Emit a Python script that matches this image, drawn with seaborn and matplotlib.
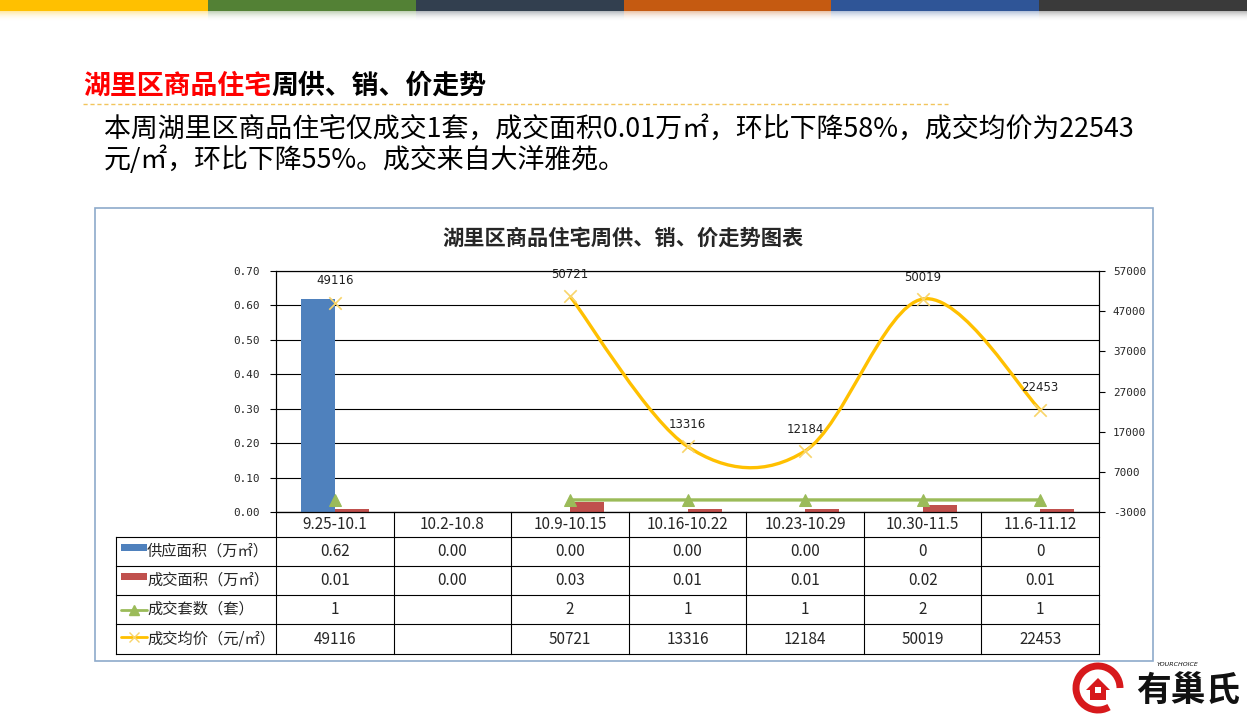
import numpy as np
import pandas as pd
import matplotlib
matplotlib.use("Agg")
import matplotlib.pyplot as plt
import seaborn as sns
from matplotlib.path import Path
from matplotlib.patches import PathPatch, Rectangle, Arc, Polygon
from matplotlib.lines import Line2D

# ---------------- data ----------------
weeks = ['9.25-10.1', '10.2-10.8', '10.9-10.15', '10.16-10.22',
         '10.23-10.29', '10.30-11.5', '11.6-11.12']
supply_text = ['0.62', '0.00', '0.00', '0.00', '0.00', '0', '0']
deal_area_text = ['0.01', '0.00', '0.03', '0.01', '0.01', '0.02', '0.01']
deal_units = [1, None, 2, 1, 1, 2, 1]
avg_price = [49116, None, 50721, 13316, 12184, 50019, 22453]
series_names = ['供应面积（万㎡）', '成交面积（万㎡）', '成交套数（套）', '成交均价（元/㎡）']
left_ticks = [0.00, 0.10, 0.20, 0.30, 0.40, 0.50, 0.60, 0.70]
right_ticks = [-3000, 7000, 17000, 27000, 37000, 47000, 57000]
stripe_colors = ['#FFC000', '#538135', '#323F4F', '#C55A11', '#2F5597', '#3A3A3A']

heading_red = '湖里区商品住宅'
heading_black = '周供、销、价走势'
para_line1 = '本周湖里区商品住宅仅成交1套，成交面积0.01万㎡，环比下降58%，成交均价为22543'
para_line2 = '元/㎡，环比下降55%。成交来自大洋雅苑。'
chart_title = '湖里区商品住宅周供、销、价走势图表'

BLUE, RED, GREEN, YELLOW, YMARK = '#4F81BD', '#C0504D', '#9BBB59', '#FFC000', '#F8D46A'

sns.set_style('white')
plt.rcParams['font.family'] = ['Noto Sans CJK SC', 'DejaVu Sans']

W, H = 1247, 718
fig = plt.figure(figsize=(W / 100, H / 100), dpi=100)


def fx(x):
    return x / W


def fy(y):
    return 1 - y / H


# ---------------- top stripes ----------------
sw = W / len(stripe_colors)
for i, c in enumerate(stripe_colors):
    fig.patches.append(Rectangle((fx(i * sw), fy(11)), sw / W, 11 / H,
                                 transform=fig.transFigure, color=c, lw=0))
    for k in range(10):
        fig.patches.append(Rectangle((fx(i * sw), fy(12 + k)), sw / W, 1 / H,
                                     transform=fig.transFigure, color=c,
                                     alpha=0.35 * (1 - k / 10) ** 2, lw=0))

# ---------------- heading & paragraph ----------------
t_red = fig.text(fx(83), fy(86), heading_red, color='#FF0000', fontsize=19.4,
                 fontweight='bold', va='center', ha='left')
fig.canvas.draw()
bb = t_red.get_window_extent()
fig.text(bb.x1 / W, fy(86), heading_black, color='black', fontsize=19.4,
         fontweight='bold', va='center', ha='left')
fig.add_artist(Line2D([fx(83), fx(948)], [fy(104), fy(104)], transform=fig.transFigure,
                      color='#F2C55C', lw=1, ls=(0, (3, 2))))
fig.text(fx(104), fy(129), para_line1, fontsize=19.4, va='center', ha='left', color='black')
fig.text(fx(104), fy(160), para_line2, fontsize=19.4, va='center', ha='left', color='black')

# ---------------- chart box ----------------
fig.patches.append(Rectangle((fx(95), fy(661)), (1153 - 95) / W, (661 - 208) / H,
                             transform=fig.transFigure, fill=False,
                             edgecolor='#8EAACB', lw=1.2))
fig.text(fx(623), fy(238), chart_title, fontsize=15.3, fontweight='bold',
         ha='center', va='center')

# ---------------- main axes ----------------
ax = fig.add_axes([fx(276), fy(512), (1099 - 276) / W, (512 - 271) / H])
bars_df = pd.DataFrame({
    'week': weeks * 2,
    'value': [float(s) for s in supply_text] + [float(s) for s in deal_area_text],
    'series': [series_names[0]] * len(weeks) + [series_names[1]] * len(weeks),
})
sns.barplot(data=bars_df, x='week', y='value', hue='series', order=weeks,
            hue_order=series_names[:2], palette=[BLUE, RED], width=0.58, gap=0,
            saturation=1, legend=False, errorbar=None, ax=ax, linewidth=0, zorder=3)
ax.set_xlim(-0.5, len(weeks) - 0.5)
ax.set_ylim(0, 0.70)
ax.set_yticks(left_ticks)
ax.set_yticklabels([f'{t:.2f}' for t in left_ticks], fontfamily='DejaVu Sans Mono',
                   fontsize=7.9)
ax.grid(axis='y', color='black', lw=0.8, zorder=0)
ax.grid(axis='x', visible=False)
ax.set_axisbelow(True)
ax.tick_params(axis='y', left=True, direction='out', length=4, width=0.8,
               color='black', pad=8)
ax.tick_params(axis='x', bottom=False, labelbottom=False)
ax.set_xlabel('')
ax.set_ylabel('')
for s in ax.spines.values():
    s.set_color('black')
    s.set_linewidth(0.8)

ax2 = ax.twinx()
# green: units
u_rows, seg = [], 0
for i, v in enumerate(deal_units):
    if v is None:
        seg += 1
        continue
    u_rows.append({'x': i, 'units': v, 'seg': seg})
units_df = pd.DataFrame(u_rows)
sns.lineplot(data=units_df, x='x', y='units', units='seg', estimator=None, sort=False,
             color=GREEN, lw=2.4, marker='^', markersize=9, markeredgecolor=GREEN,
             legend=False, ax=ax2, zorder=4)

# yellow: average price, Excel-style smoothed curve
p_rows, seg = [], 0
for i, v in enumerate(avg_price):
    if v is None:
        seg += 1
        continue
    p_rows.append({'x': i, 'price': v, 'seg': seg})
price_df = pd.DataFrame(p_rows)
for _, g in price_df.groupby('seg'):
    pts = g[['x', 'price']].to_numpy(dtype=float)
    if len(pts) < 2:
        continue
    verts, codes = [pts[0]], [Path.MOVETO]
    n = len(pts)
    for j in range(n - 1):
        p0 = pts[max(j - 1, 0)]
        p1, p2 = pts[j], pts[j + 1]
        p3 = pts[min(j + 2, n - 1)]
        c1 = p1 + (p2 - p0) / 6
        c2 = p2 - (p3 - p1) / 6
        verts += [c1, c2, p2]
        codes += [Path.CURVE4] * 3
    ax2.add_patch(PathPatch(Path(verts, codes), fill=False, edgecolor=YELLOW,
                            lw=2.4, zorder=5))
sns.scatterplot(data=price_df, x='x', y='price', marker='x', s=80, color=YMARK,
                linewidth=1.2, legend=False, ax=ax2, zorder=6)
for _, r in price_df.iterrows():
    ax2.annotate(f"{int(r['price'])}", (r['x'], r['price']), xytext=(0, 11),
                 textcoords='offset points', ha='center', va='bottom',
                 fontsize=8.5, fontfamily='DejaVu Sans', color='#202020', zorder=7)

ax2.set_xlim(-0.5, len(weeks) - 0.5)
ax2.set_ylim(right_ticks[0], right_ticks[-1])
ax2.set_yticks(right_ticks)
ax2.set_yticklabels([str(t) for t in right_ticks], fontfamily='DejaVu Sans Mono',
                    fontsize=7.9)
ax2.tick_params(axis='y', right=True, direction='out', length=4, width=0.8,
                color='black', pad=6)
ax2.tick_params(axis='x', bottom=False, labelbottom=False)
ax2.set_xlabel('')
ax2.set_ylabel('')
ax2.grid(False)
for s in ax2.spines.values():
    s.set_color('black')
    s.set_linewidth(0.8)

# ---------------- data table ----------------
unit = (1099 - 276) / len(weeks)
x0 = -0.5 - (276 - 116) / unit
tax = fig.add_axes([fx(116), fy(654), (1099 - 116) / W, (654 - 512) / H])
tax.set_xlim(x0, len(weeks) - 0.5)
tax.set_ylim(142, 0)
tax.axis('off')
row_b = [0, 25, 54, 83, 112, 142]
lk = dict(color='black', lw=0.8, solid_capstyle='projecting', clip_on=False)
tax.plot([-0.5, len(weeks) - 0.5], [0, 0], **lk)
for yb in row_b[1:]:
    tax.plot([x0, len(weeks) - 0.5], [yb, yb], **lk)
for k in range(len(weeks) + 1):
    tax.plot([k - 0.5, k - 0.5], [0, 142], **lk)
tax.plot([x0, x0], [25, 142], **lk)

fs = 11
for i, w in enumerate(weeks):
    tax.text(i, 12.5, w, ha='center', va='center', fontsize=fs)
rows = [
    supply_text,
    deal_area_text,
    ['' if v is None else str(v) for v in deal_units],
    ['' if v is None else str(v) for v in avg_price],
]
for r, vals in enumerate(rows):
    yc = (row_b[r + 1] + row_b[r + 2]) / 2
    for i, v in enumerate(vals):
        tax.text(i, yc, v, ha='center', va='center', fontsize=fs)
    tax.text(x0 + 31 / unit, yc, series_names[r], ha='left', va='center', fontsize=fs)
    kx0, kx1 = x0 + 5 / unit, x0 + 31 / unit
    if r < 2:
        tax.add_patch(Rectangle((kx0, yc - 8), kx1 - kx0, 7,
                                color=[BLUE, RED][r], lw=0))
    elif r == 2:
        tax.plot([kx0, kx1], [yc, yc], color=GREEN, lw=2)
        tax.plot([(kx0 + kx1) / 2], [yc], marker='^', color=GREEN, markersize=7)
    else:
        tax.plot([kx0, kx1], [yc - 2, yc - 2], color=YELLOW, lw=2)
        tax.plot([(kx0 + kx1) / 2], [yc - 2], marker='x', color=YMARK, markersize=7)

# ---------------- logo ----------------
lax = fig.add_axes([fx(1060), fy(716), 190 / W, 60 / H])
lax.set_xlim(0, 190)
lax.set_ylim(60, 0)
lax.axis('off')
lax.add_patch(Arc((38, 32), 44, 44, theta1=60, theta2=360, color='#D7191C', lw=5))
lax.add_patch(Polygon([[26, 34], [38, 22], [50, 34], [46, 34], [46, 44], [30, 44], [30, 34]],
                      closed=True, color='#D7191C', lw=0))
lax.add_patch(Rectangle((35, 31), 6, 6, color='white', lw=0))
lax.text(128, 34, '有巢氏', fontsize=25, fontweight='bold', ha='center', va='center',
         color='#111111')
lax.text(118, 8, 'YOURCHOICE', fontsize=4.5, style='italic', ha='center', va='center',
         color='#111111', fontfamily='DejaVu Sans')

fig.savefig('out.png', dpi=100)
